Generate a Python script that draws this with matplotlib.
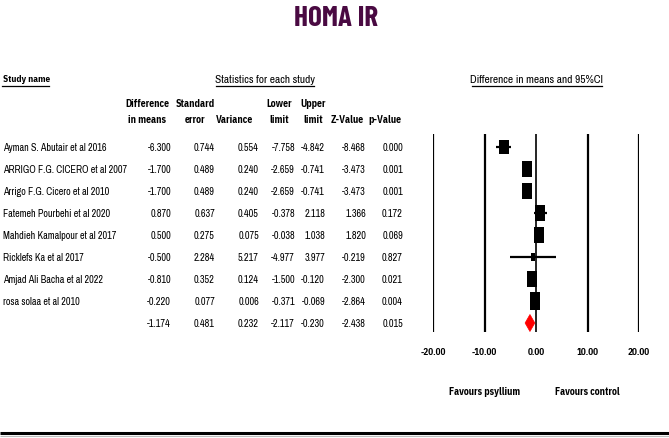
import matplotlib
matplotlib.use('Agg')
import matplotlib.pyplot as plt
from matplotlib.path import Path
from matplotlib.patches import Polygon
import matplotlib.transforms as mtransforms
import numpy as np

# ---------------- data ----------------
title = "HOMA IR"
studies = ["Ayman S. Abutair et al 2016", "ARRIGO F.G. CICERO et al 2007",
           "Arrigo F.G. Cicero et al 2010", "Fatemeh Pourbehi et al 2020",
           "Mahdieh Kamalpour et al 2017", "Ricklefs Ka et al 2017",
           "Amjad Ali Bacha et al 2022", "rosa solaa et al 2010"]
diff = [-6.300, -1.700, -1.700, 0.870, 0.500, -0.500, -0.810, -0.220]
se = [0.744, 0.489, 0.489, 0.637, 0.275, 2.284, 0.352, 0.077]
variance = [0.554, 0.240, 0.240, 0.405, 0.075, 5.217, 0.124, 0.006]
lower = [-7.758, -2.659, -2.659, -0.378, -0.038, -4.977, -1.500, -0.371]
upper = [-4.842, -0.741, -0.741, 2.118, 1.038, 3.977, -0.120, -0.069]
zval = [-8.468, -3.473, -3.473, 1.366, 1.820, -0.219, -2.300, -2.864]
pval = [0.000, 0.001, 0.001, 0.172, 0.069, 0.827, 0.021, 0.004]
pooled_diff = -1.174
pooled_se = 0.481
pooled_var = 0.232
pooled_lower = -2.117
pooled_upper = -0.230
pooled_z = -2.438
pooled_p = 0.015
tau2 = 1.45  # estimated between-study variance (random effects)

col_headers = [("Difference", "in means"), ("Standard", "error"), ("", "Variance"),
               ("Lower", "limit"), ("Upper", "limit"), ("", "Z-Value"), ("", "p-Value")]
xticks = [-20, -10, 0, 10, 20]
xticklabels = ["-20.00", "-10.00", "0.00", "10.00", "20.00"]
favours = ["Favours psyllium", "Favours control"]

# ---------------- figure ----------------
W, H = 669, 439
fig = plt.figure(figsize=(W / 100, H / 100), dpi=100)
fig.patch.set_facecolor('white')
TXT = dict(fontfamily=['Archivo Narrow', 'Liberation Sans Narrow', 'DejaVu Sans'],
           fontstretch='condensed')
BTXT = dict(fontfamily=['IBM Plex Sans Condensed', 'Fira Sans Condensed', 'DejaVu Sans'],
            fontstretch='condensed', fontweight='bold')
TTXT = dict(fontfamily=['Barlow Condensed', 'IBM Plex Sans Condensed', 'DejaVu Sans'],
            fontstretch='condensed', fontweight='bold')

ov = fig.add_axes([0, 0, 1, 1])
ov.set_xlim(0, W)
ov.set_ylim(H, 0)
ov.axis('off')
ov.patch.set_visible(False)

# forest axes
top_px, bot_px = 135, 333
left_px, right_px = 433, 639
row0, rowstep = 148, 22.0
ax = fig.add_axes([left_px / W, (H - bot_px) / H, (right_px - left_px) / W, (bot_px - top_px) / H])
ax.set_xlim(-20, 20)
ax.set_ylim((bot_px - row0) / rowstep, (top_px - row0) / rowstep)
for s in ax.spines.values():
    s.set_visible(False)
ax.patch.set_visible(False)
ax.set_yticks([])
ax.set_xticks(xticks)
ax.set_xticklabels(xticklabels, fontsize=6.6, **BTXT)
ax.tick_params(axis='x', length=0, pad=11)
for t in xticks:
    ax.axvline(t, color='black', lw=1.6 if t != 0 else 1.2, zorder=1)

# title
ov.text(336, 18, title, ha='center', va='center', fontsize=21, color='#4a0a42', **TTXT)

# section headers
hdr_y = 80
ov.text(3, hdr_y, "Study name", ha='left', va='center', fontsize=6.7, **BTXT)
ov.text(265, hdr_y, "Statistics for each study", ha='center', va='center', fontsize=8.2, **TXT)
ov.text(537, hdr_y, "Difference in means and 95%CI", ha='center', va='center', fontsize=8.2, **TXT)
for x0, x1 in [(2, 49), (216, 314), (472, 602)]:
    ov.plot([x0, x1], [86.5, 86.5], color='black', lw=0.9)

# column headers
col_centers = [147, 195, 234, 279, 313, 347, 385]
col_right = [171, 215, 259, 295, 325, 366, 403]
for cx, (l1, l2) in zip(col_centers, col_headers):
    if l1:
        ov.text(cx, 104, l1, ha='center', va='center', fontsize=7.1, **BTXT)
    ov.text(cx, 120, l2, ha='center', va='center', fontsize=7.1, **BTXT)

# rows
trans = mtransforms.blended_transform_factory(ov.transData, ax.transData)
n = len(studies)
rows = np.arange(n)
for i in rows:
    ov.text(3, i, studies[i], transform=trans, ha='left', va='center', fontsize=7.3, **TXT)
    vals = [diff[i], se[i], variance[i], lower[i], upper[i], zval[i], pval[i]]
    for xr, v in zip(col_right, vals):
        ov.text(xr, i, f"{v:.3f}", transform=trans, ha='right', va='center', fontsize=7.4, **TXT)
pooled_vals = [pooled_diff, pooled_se, pooled_var, pooled_lower, pooled_upper, pooled_z, pooled_p]
for xr, v in zip(col_right, pooled_vals):
    ov.text(xr, n, f"{v:.3f}", transform=trans, ha='right', va='center', fontsize=7.4, **TXT)

# forest marks
weights = 1.0 / (np.array(variance) + tau2)
rel = np.sqrt(weights / weights.max())
rect = Path([(-0.31, -0.5), (0.31, -0.5), (0.31, 0.5), (-0.31, 0.5), (-0.31, -0.5)],
            [Path.MOVETO, Path.LINETO, Path.LINETO, Path.LINETO, Path.CLOSEPOLY])
for i in rows:
    ax.plot([lower[i], upper[i]], [i, i], color='black', lw=1.6, zorder=3,
            solid_capstyle='butt')
    ax.plot(diff[i], i, marker=rect, markersize=12.3 * rel[i], color='black',
            markeredgewidth=0, zorder=4)

dh = 8.5 / rowstep
diamond = Polygon([(pooled_lower, n), (pooled_diff, n - dh), (pooled_upper, n),
                   (pooled_diff, n + dh)], closed=True, facecolor='#ff0000',
                  edgecolor='#ff0000', lw=0.5, zorder=5)
ax.add_patch(diamond)

# favours labels
ftrans = mtransforms.blended_transform_factory(ax.transData, ov.transData)
ov.text(-10, 392, favours[0], transform=ftrans, ha='center', va='center', fontsize=7.0, **BTXT)
ov.text(10, 392, favours[1], transform=ftrans, ha='center', va='center', fontsize=7.0, **BTXT)

# bottom rule
ov.plot([0, W], [434.5, 434.5], color='black', lw=2.2, solid_capstyle='butt')
ov.plot([0, W], [437.5, 437.5], color='#bbbbbb', lw=0.8, solid_capstyle='butt')

fig.savefig('out.png', dpi=100, facecolor='white')
